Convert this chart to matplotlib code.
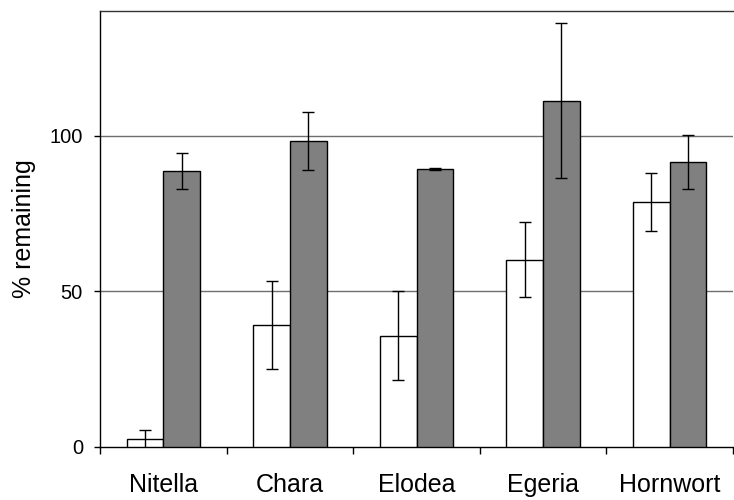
import matplotlib
matplotlib.use("Agg")
import matplotlib.pyplot as plt
import numpy as np

# ---- data ----
species = ["Nitella", "Chara", "Elodea", "Egeria", "Hornwort"]
white_vals = [2.5, 39.2, 35.8, 60.2, 78.8]
white_err = [3.0, 14.0, 14.3, 12.0, 9.3]
grey_vals = [88.5, 98.4, 89.4, 111.2, 91.5]
grey_err = [5.8, 9.3, 0.3, 24.8, 8.6]
y_ticks = [0, 50, 100]

plt.rcParams['font.family'] = ['Liberation Sans', 'DejaVu Sans']

fig = plt.figure(figsize=(7.34, 5.0), dpi=100)
ax = fig.add_axes([0.1362, 0.106, 0.8625, 0.872])

x = np.arange(len(species))
w = 0.29
err_kw = dict(ecolor='black', elinewidth=1.0, capsize=4.5, capthick=1.0)
ax.bar(x - w / 2, white_vals, w, yerr=white_err, color='white',
       edgecolor='black', linewidth=1.0, error_kw=err_kw, zorder=3)
ax.bar(x + w / 2, grey_vals, w, yerr=grey_err, color='#808080',
       edgecolor='black', linewidth=1.0, error_kw=err_kw, zorder=3)

# grid lines at 50 and 100 only
for yv in y_ticks[1:]:
    ax.axhline(yv, color='#6e6e6e', linewidth=1.0, zorder=1)

ax.set_xlim(-0.5, len(species) - 0.5)
ax.set_ylim(0, 140)
ax.set_yticks(y_ticks)
ax.tick_params(axis='y', length=4.3, width=1.0, direction='out', pad=8, labelsize=14.5)

ax.set_xticks(x)
ax.set_xticklabels(species)
ax.set_xticks(np.arange(-0.5, len(species)), minor=True)
ax.tick_params(axis='x', which='major', length=0, pad=19, labelsize=18)
ax.tick_params(axis='x', which='minor', length=5, width=1.0, direction='out')

ax.set_ylabel("% remaining", fontsize=18, labelpad=10)

for side in ['left', 'bottom']:
    ax.spines[side].set_linewidth(1.0)
ax.spines['top'].set_linewidth(1.0)
ax.spines['top'].set_color('#333333')
ax.spines['right'].set_visible(False)

fig.savefig("out.png", dpi=100)
